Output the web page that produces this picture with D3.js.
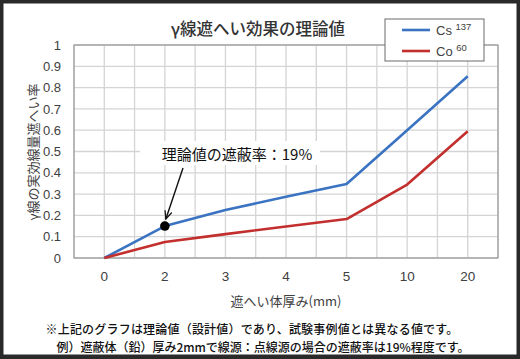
<!DOCTYPE html>
<html><head><meta charset="utf-8">
<script src="https://cdn.jsdelivr.net/npm/d3@7"></script>
<style>
html,body{margin:0;padding:0;background:#fff;}
svg{display:block;}
</style></head>
<body>
<svg id="chart" width="520" height="359"></svg>
<script>
const categories = ["0","2","3","4","5","10","20"];
const cs137 = [0, 0.15, 0.225, 0.288, 0.347, 0.60, 0.853];
const co60 = [0, 0.075, 0.112, 0.148, 0.183, 0.345, 0.595];
const yTicks = [0,0.1,0.2,0.3,0.4,0.5,0.6,0.7,0.8,0.9,1];
const yTickLabels = ["0","0.1","0.2","0.3","0.4","0.5","0.6","0.7","0.8","0.9","1"];
const seriesNames = ["Cs","Co"];
const seriesSup = ["137","60"];
const seriesColors = ["#3a73c2","#c22f2d"];
const title = "γ線遮へい効果の理論値";
const yTitle = "γ線の実効線量遮へい率";
const xTitle = "遮へい体厚み(mm)";
const annotText = "理論値の遮蔽率：19%";
const annotIndex = 1;
const notes = ["※上記のグラフは理論値（設計値）であり、試験事例値とは異なる値です。",
               "例）遮蔽体（鉛）厚み2mmで線源：点線源の場合の遮蔽率は19%程度です。"];

const JP = "'Noto Sans CJK JP','Noto Sans',sans-serif";
const svg = d3.select("#chart");
const W = 520, H = 359;
const L = 74, R = 498, T = 45, B = 258;

svg.append("rect").attr("x",0).attr("y",0).attr("width",W).attr("height",H).attr("fill","#2a2a2a");
svg.append("rect").attr("x",3.5).attr("y",3.5).attr("width",W-7).attr("height",H-8).attr("fill","#fff");

const x = d3.scaleBand().domain(categories).range([L,R]).padding(0);
const y = d3.scaleLinear().domain([0,1]).range([B,T]);
const bw = x.bandwidth();
const cx = c => x(c) + bw/2;

// grid
const g = svg.append("g");
const vlines = [];
categories.forEach(c => { vlines.push(x(c)); vlines.push(cx(c)); });
vlines.push(R);
g.selectAll("line.v").data(vlines).enter().append("line")
  .attr("x1",d=>d).attr("x2",d=>d).attr("y1",T).attr("y2",B)
  .attr("stroke","#d4d4d4").attr("stroke-width",1.3);
g.selectAll("line.h").data(yTicks).enter().append("line")
  .attr("x1",L).attr("x2",R).attr("y1",d=>y(d)).attr("y2",d=>y(d))
  .attr("stroke","#d4d4d4").attr("stroke-width",1.3);
// frame
svg.append("rect").attr("x",L).attr("y",T).attr("width",R-L).attr("height",B-T)
  .attr("fill","none").attr("stroke","#9a9a9a").attr("stroke-width",1.2);

// axes
const yAxis = d3.axisLeft(y).tickValues(yTicks).tickFormat((d,i)=>yTickLabels[i]).tickSize(0).tickPadding(13);
const ya = svg.append("g").attr("transform",`translate(${L},0)`).call(yAxis);
ya.select(".domain").remove();
ya.selectAll("text").attr("font-family","'Liberation Sans',Arial,sans-serif").attr("font-size",13).attr("fill","#404040");

const xAxis = d3.axisBottom(x).tickSize(0).tickPadding(13);
const xa = svg.append("g").attr("transform",`translate(0,${B})`).call(xAxis);
xa.select(".domain").remove();
xa.selectAll("text").attr("font-family","'Liberation Sans',Arial,sans-serif").attr("font-size",13.5).attr("fill","#404040");

// lines
const line = d3.line().x((d,i)=>cx(categories[i])).y(d=>y(d));
[cs137, co60].forEach((s,k)=>{
  svg.append("path").datum(s).attr("d",line).attr("fill","none")
    .attr("stroke",seriesColors[k]).attr("stroke-width",2.6).attr("stroke-linejoin","round");
});

// annotation
const ax = cx(categories[annotIndex]), ay = y(cs137[annotIndex]);
svg.append("rect").attr("x",140).attr("y",141).attr("width",180).attr("height",24).attr("fill","#fff");
svg.append("text").attr("x",237).attr("y",153).attr("text-anchor","middle").attr("dominant-baseline","central")
  .attr("font-family",JP).attr("font-size",15).attr("fill","#111").text(annotText);
svg.append("defs").append("marker").attr("id","ah").attr("viewBox","0 0 10 10").attr("refX",9).attr("refY",5)
  .attr("markerWidth",9).attr("markerHeight",9).attr("markerUnits","userSpaceOnUse").attr("orient","auto")
  .append("path").attr("d","M0,1 L9,5 L0,9").attr("fill","none").attr("stroke","#111").attr("stroke-width",1.4);
svg.append("line").attr("x1",183).attr("y1",168).attr("x2",ax+1).attr("y2",ay-7)
  .attr("stroke","#111").attr("stroke-width",1.4).attr("marker-end","url(#ah)");
svg.append("circle").attr("cx",ax).attr("cy",ay).attr("r",4.8).attr("fill","#000");

// title
svg.append("text").attr("x",258).attr("y",28).attr("text-anchor","middle").attr("dominant-baseline","central")
  .attr("font-family",JP).attr("font-size",16.5).attr("font-weight",500).attr("fill","#333").text(title);

// y title
svg.append("text").attr("transform","translate(32,152) rotate(-90)").attr("text-anchor","middle")
  .attr("dominant-baseline","central").attr("font-family",JP).attr("font-size",13).attr("fill","#404040").text(yTitle);
// x title
svg.append("text").attr("x",286).attr("y",300).attr("text-anchor","middle").attr("dominant-baseline","central")
  .attr("font-family",JP).attr("font-size",13).attr("fill","#404040").text(xTitle);

// legend
const lg = svg.append("g");
lg.append("rect").attr("x",385).attr("y",19).attr("width",99).attr("height",42)
  .attr("fill","#fff").attr("stroke","#6a6a6a").attr("stroke-width",1);
seriesNames.forEach((n,k)=>{
  const yy = 30 + k*21;
  lg.append("line").attr("x1",402).attr("x2",430).attr("y1",yy).attr("y2",yy)
    .attr("stroke",seriesColors[k]).attr("stroke-width",2.6);
  const t = lg.append("text").attr("x",436).attr("y",yy).attr("dominant-baseline","central")
    .attr("font-family","'Liberation Sans',Arial,sans-serif").attr("font-size",13).attr("fill","#404040");
  t.append("tspan").text(n + " ");
  t.append("tspan").attr("font-size",9.5).attr("dy",-4).text(seriesSup[k]);
});

// notes
const noteX = [252, 263], noteY = [328, 346];
notes.forEach((n,i)=>{
  svg.append("text").attr("x",noteX[i]).attr("y",noteY[i]).attr("text-anchor","middle").attr("dominant-baseline","central")
    .attr("font-family",JP).attr("font-size",12).attr("font-weight",500).attr("letter-spacing",i===0?0.2:0)
    .attr("fill","#111").text(n);
});
</script>
</body></html>
